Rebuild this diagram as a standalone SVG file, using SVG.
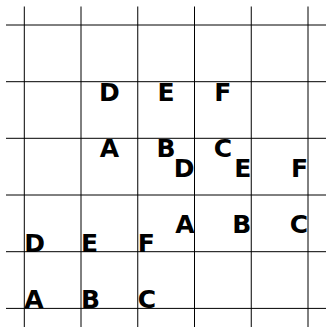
<svg xmlns="http://www.w3.org/2000/svg" width="326" height="327" viewBox="0 0 326 327">
<style>
.g{stroke:#000;stroke-width:1;fill:none}
text{font-family:"DejaVu Sans","Liberation Sans",sans-serif;font-weight:bold;font-size:25px;fill:#000}
.top{text-anchor:middle}
.mid{text-anchor:end}
.base{text-anchor:start}
</style>
<rect width="326" height="327" fill="#fff"/>
<g id="grid" class="g">
<line x1="24.3" y1="6.5" x2="24.3" y2="327"/>
<line x1="81" y1="6.5" x2="81" y2="327"/>
<line x1="137.75" y1="6.5" x2="137.75" y2="327"/>
<line x1="194.5" y1="6.5" x2="194.5" y2="327"/>
<line x1="251.25" y1="6.5" x2="251.25" y2="327"/>
<line x1="308" y1="6.5" x2="308" y2="327"/>
<line x1="6" y1="25" x2="326" y2="25"/>
<line x1="6" y1="81.7" x2="326" y2="81.7"/>
<line x1="6" y1="138.3" x2="326" y2="138.3"/>
<line x1="6" y1="195" x2="326" y2="195"/>
<line x1="6" y1="251.7" x2="326" y2="251.7"/>
<line x1="6" y1="308.4" x2="326" y2="308.4"/>
</g>
<g id="set-top">
<text class="top" x="109.4" y="101">D</text>
<text class="top" x="166.1" y="101">E</text>
<text class="top" x="222.9" y="101">F</text>
<text class="top" x="109.4" y="157.4">A</text>
<text class="top" x="166.1" y="157.4">B</text>
<text class="top" x="222.9" y="157.4">C</text>
</g>
<g id="set-middle">
<text class="mid" x="194.5" y="176.6">D</text>
<text class="mid" x="251.25" y="176.6">E</text>
<text class="mid" x="308" y="176.6">F</text>
<text class="mid" x="194.5" y="233.2">A</text>
<text class="mid" x="251.25" y="233.2">B</text>
<text class="mid" x="308" y="233.2">C</text>
</g>
<g id="set-bottom">
<text class="base" x="24.3" y="251.7">D</text>
<text class="base" x="81" y="251.7">E</text>
<text class="base" x="137.75" y="251.7">F</text>
<text class="base" x="24.3" y="308.4">A</text>
<text class="base" x="81" y="308.4">B</text>
<text class="base" x="137.75" y="308.4">C</text>
</g>
</svg>
